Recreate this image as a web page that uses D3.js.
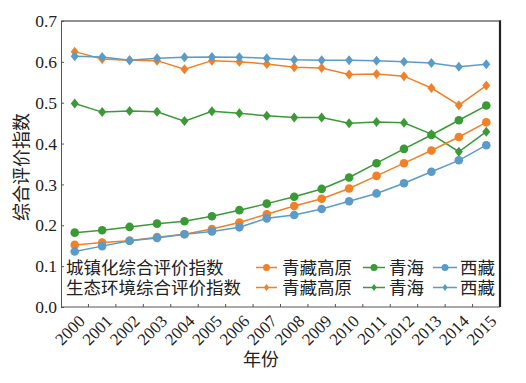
<!DOCTYPE html>
<html><head><meta charset="utf-8">
<script src="https://cdn.jsdelivr.net/npm/d3@7/dist/d3.min.js"></script>
<style>body{margin:0;background:#fff;}svg{display:block;}</style>
</head><body>
<script>
const years = ["2000","2001","2002","2003","2004","2005","2006","2007","2008","2009","2010","2011","2012","2013","2014","2015"];
const yTicks = [0,0.1,0.2,0.3,0.4,0.5,0.6,0.7];
const regions = ["青藏高原","青海","西藏"];
const groupLabels = ["城镇化综合评价指数","生态环境综合评价指数"];
// 城镇化综合评价指数
const urbQTP = [0.152,0.158,0.162,0.171,0.178,0.191,0.207,0.227,0.247,0.265,0.290,0.321,0.352,0.383,0.416,0.452];
const urbQH  = [0.182,0.188,0.196,0.204,0.210,0.222,0.237,0.253,0.270,0.289,0.317,0.352,0.387,0.421,0.457,0.493];
const urbXZ  = [0.136,0.149,0.162,0.169,0.178,0.185,0.195,0.217,0.225,0.240,0.259,0.278,0.303,0.331,0.359,0.396];
// 生态环境综合评价指数
const ecoQTP = [0.625,0.607,0.604,0.603,0.582,0.603,0.600,0.595,0.587,0.585,0.569,0.570,0.565,0.536,0.494,0.542];
const ecoQH  = [0.498,0.477,0.480,0.478,0.455,0.479,0.474,0.468,0.464,0.464,0.450,0.453,0.451,0.423,0.380,0.429];
const ecoXZ  = [0.614,0.612,0.604,0.609,0.611,0.612,0.611,0.609,0.605,0.604,0.604,0.603,0.600,0.597,0.588,0.594];

const colors = ["#f28026","#3a9a35","#5b9bc8"];
const W = 526, H = 383;
const m = {l:61, r:500, t:21, b:307};
const serif = "'Liberation Serif','Times New Roman',serif";
const cjk = "'Noto Sans CJK SC','Noto Sans CJK JP',sans-serif";

const svg = d3.select("body").append("svg").attr("width",W).attr("height",H);
const x = d3.scaleBand().domain(years).range([m.l,m.r]).padding(0);
const y = d3.scaleLinear().domain([0,0.7]).range([m.b,m.t]);
const cx = d => x(d) + x.bandwidth()/2;

function diamondType(hw, hh){
  return {draw(ctx){ ctx.moveTo(0,-hh); ctx.lineTo(hw,0); ctx.lineTo(0,hh); ctx.lineTo(-hw,0); ctx.closePath(); }};
}
const bigDiamond = d3.symbol().type(diamondType(4,5));
const smallDiamond = d3.symbol().type(diamondType(2.6,3.4));

// frame
svg.append("line").attr("x1",m.l).attr("x2",m.r+1).attr("y1",m.t).attr("y2",m.t).attr("stroke","#222").attr("stroke-width",1);
svg.append("line").attr("x1",m.r).attr("x2",m.r).attr("y1",m.t-0.5).attr("y2",m.b).attr("stroke","#222").attr("stroke-width",2.2);

// y axis
const gy = svg.append("g").attr("transform",`translate(${m.l},0)`)
  .call(d3.axisLeft(y).tickValues(yTicks).tickFormat(d3.format(".1f")).tickSizeInner(-3).tickSizeOuter(0).tickPadding(4));
gy.select(".domain").attr("stroke","#555");
gy.selectAll(".tick line").attr("stroke","#555");
gy.selectAll("text").attr("font-family",serif).attr("font-size",17.5).attr("fill","#222");

// x axis
const gx = svg.append("g").attr("transform",`translate(0,${m.b})`)
  .call(d3.axisBottom(x).tickSize(0).tickPadding(0));
gx.select(".domain").attr("stroke","#555").attr("d",`M${m.l},0H${m.r}`);
gx.selectAll(".tick text").attr("font-family",serif).attr("font-size",17).attr("fill","#222")
  .attr("text-anchor","end").attr("dy","0.35em")
  .attr("transform","translate(7,11) rotate(-45)");
svg.append("g").selectAll("line").data(years.slice(1)).join("line")
  .attr("x1",d=>x(d)).attr("x2",d=>x(d)).attr("y1",m.b).attr("y2",m.b-3).attr("stroke","#555");

// axis titles
svg.append("text").attr("x",261).attr("y",360).attr("dy","0.35em").attr("text-anchor","middle")
  .attr("font-family",cjk).attr("font-size",18).attr("fill","#222").text("年份");
svg.append("text").attr("transform","translate(22,167) rotate(-90)").attr("dy","0.35em").attr("text-anchor","middle")
  .attr("font-family",cjk).attr("font-size",18).attr("fill","#222").text("综合评价指数");

const line = d3.line().x((d,i)=>cx(years[i])).y(d=>y(d));
const plot = svg.append("g");
function drawSeries(vals, color, marker){
  plot.append("path").datum(vals).attr("d",line).attr("fill","none").attr("stroke",color).attr("stroke-width",1.5);
  if(marker==="circle"){
    plot.append("g").selectAll("circle").data(vals).join("circle")
      .attr("cx",(d,i)=>cx(years[i])).attr("cy",d=>y(d)).attr("r",4.3).attr("fill",color);
  } else {
    plot.append("g").selectAll("path").data(vals).join("path")
      .attr("d",bigDiamond).attr("transform",(d,i)=>`translate(${cx(years[i])},${y(d)})`).attr("fill",color);
  }
}
[ecoQTP,ecoQH,ecoXZ].forEach((v,i)=>drawSeries(v,colors[i],"diamond"));
[urbQTP,urbQH,urbXZ].forEach((v,i)=>drawSeries(v,colors[i],"circle"));

// legend
const leg = svg.append("g");
const rowY = [267.5,287.5];
const segX = [[256,277],[363,385],[433,457]];
const txtX = [282,389,460];
groupLabels.forEach((g,r)=>{
  leg.append("text").attr("x",66).attr("y",rowY[r]).attr("dy","0.35em")
    .attr("font-family",cjk).attr("font-size",17.5).attr("fill","#222").text(g);
  regions.forEach((name,i)=>{
    leg.append("line").attr("x1",segX[i][0]).attr("x2",segX[i][1]).attr("y1",rowY[r]).attr("y2",rowY[r])
      .attr("stroke",colors[i]).attr("stroke-width",1.5);
    const mx = (segX[i][0]+segX[i][1])/2;
    if(r===0) leg.append("circle").attr("cx",mx).attr("cy",rowY[r]).attr("r",3.5).attr("fill",colors[i]);
    else leg.append("path").attr("d",smallDiamond).attr("transform",`translate(${mx},${rowY[r]})`).attr("fill",colors[i]);
    leg.append("text").attr("x",txtX[i]).attr("y",rowY[r]).attr("dy","0.35em")
      .attr("font-family",cjk).attr("font-size",17.5).attr("fill","#222").text(name);
  });
});
</script>
</body></html>
